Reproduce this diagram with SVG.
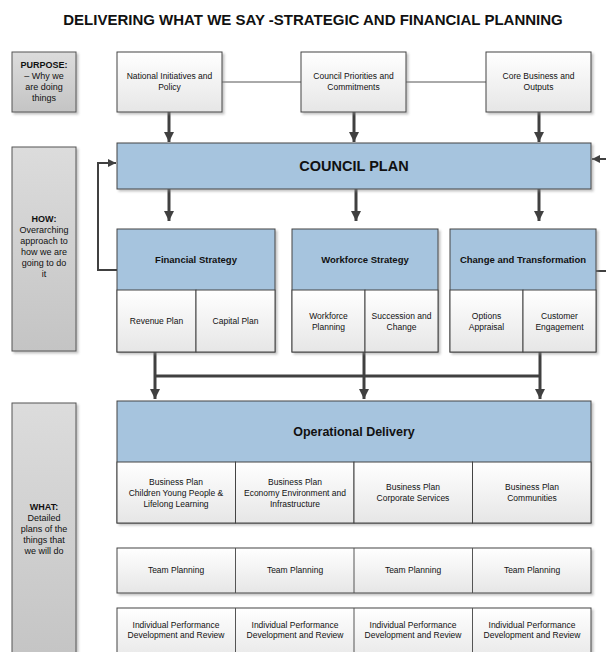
<svg xmlns="http://www.w3.org/2000/svg" width="606" height="652" viewBox="0 0 606 652">
<defs>
<linearGradient id="gGray" x1="0" y1="0" x2="0" y2="1"><stop offset="0" stop-color="#dcdcdc"/><stop offset="1" stop-color="#c4c4c4"/></linearGradient>
<linearGradient id="gWhite" x1="0" y1="0" x2="0" y2="1"><stop offset="0" stop-color="#ffffff"/><stop offset="1" stop-color="#e6e6e6"/></linearGradient>
<filter id="sh" x="-10%" y="-10%" width="130%" height="130%"><feDropShadow dx="2" dy="2" stdDeviation="1" flood-color="#888" flood-opacity="0.5"/></filter>
<marker id="ah" viewBox="0 0 10 10" refX="10" refY="5" markerWidth="10" markerHeight="11" markerUnits="userSpaceOnUse" orient="auto"><path d="M0,0 L10,5 L0,10 z" fill="#404040"/></marker>
<marker id="ahs" viewBox="0 0 10 10" refX="10" refY="5" markerWidth="8" markerHeight="8" markerUnits="userSpaceOnUse" orient="auto"><path d="M0,0 L10,5 L0,10 z" fill="#404040"/></marker>
</defs>
<style>
text{font-family:"Liberation Sans",Arial,sans-serif;fill:#111;text-anchor:middle}
.side{fill:url(#gGray);stroke:#555;stroke-width:1;filter:url(#sh)}
.wbox{fill:url(#gWhite);stroke:#444;stroke-width:1;filter:url(#sh)}
.blue{fill:#a6c4de;stroke:#444;stroke-width:1;filter:url(#sh)}
.sub{fill:url(#gWhite);stroke:#444;stroke-width:1}
.st{font-size:9px}
.sb{font-size:9px;font-weight:bold}
.s8{font-size:8.5px}
.hd{font-size:9.5px;font-weight:bold}
.thick{stroke:#404040;stroke-width:3;fill:none}
.thin{stroke:#404040;stroke-width:2;fill:none}
.hair{stroke:#555;stroke-width:1;fill:none}
</style>
<rect width="606" height="652" fill="#ffffff"/>
<text x="313" y="25" style="font-size:15px;font-weight:bold">DELIVERING WHAT WE SAY -STRATEGIC AND FINANCIAL PLANNING</text>

<g id="purpose">
<rect class="side" x="12" y="52" width="64" height="60"/>
<text class="sb" x="44" y="68">PURPOSE:</text>
<text class="st" x="44" y="79">– Why we</text>
<text class="st" x="44" y="90">are doing</text>
<text class="st" x="44" y="101">things</text>
</g>
<g id="how">
<rect class="side" x="12" y="147" width="64" height="204"/>
<text class="sb" x="44" y="222">HOW:</text>
<text class="st" x="44" y="233">Overarching</text>
<text class="st" x="44" y="244">approach to</text>
<text class="st" x="44" y="255">how we are</text>
<text class="st" x="44" y="266">going to do</text>
<text class="st" x="44" y="277">it</text>
</g>
<g id="what">
<rect class="side" x="12" y="403" width="64" height="260"/>
<text class="sb" x="44" y="510">WHAT:</text>
<text class="st" x="44" y="521">Detailed</text>
<text class="st" x="44" y="532">plans of the</text>
<text class="st" x="44" y="543">things that</text>
<text class="st" x="44" y="554">we will do</text>
</g>

<g id="connectors">
<line class="hair" x1="222" y1="82" x2="301" y2="82"/>
<line class="hair" x1="406" y1="82" x2="486" y2="82"/>
<line class="thick" x1="169" y1="112" x2="169" y2="142" marker-end="url(#ah)"/>
<line class="thick" x1="354" y1="112" x2="354" y2="142" marker-end="url(#ah)"/>
<line class="thick" x1="539" y1="112" x2="539" y2="142" marker-end="url(#ah)"/>
<line class="thick" x1="169" y1="189" x2="169" y2="221" marker-end="url(#ah)"/>
<line class="thick" x1="356" y1="189" x2="356" y2="221" marker-end="url(#ah)"/>
<line class="thick" x1="539" y1="189" x2="539" y2="221" marker-end="url(#ah)"/>
<path class="thin" d="M117,270 H98 V163 H116" marker-end="url(#ahs)"/>
<line class="thin" x1="608" y1="159" x2="592" y2="159" marker-end="url(#ahs)"/>
<line class="thin" x1="596" y1="271" x2="608" y2="271"/>
<line class="thick" x1="155" y1="352" x2="155" y2="399" marker-end="url(#ah)"/>
<line class="thick" x1="364" y1="352" x2="364" y2="399" marker-end="url(#ah)"/>
<line class="thick" x1="540" y1="352" x2="540" y2="399" marker-end="url(#ah)"/>
<line class="thick" x1="155" y1="376" x2="541" y2="376"/>
</g>

<g id="national">
<rect class="wbox" x="117" y="52" width="105" height="60"/>
<text class="s8" x="169.5" y="79">National Initiatives and</text>
<text class="s8" x="169.5" y="90">Policy</text>
</g>
<g id="council-priorities">
<rect class="wbox" x="301" y="52" width="105" height="60"/>
<text class="s8" x="353.5" y="79">Council Priorities and</text>
<text class="s8" x="353.5" y="90">Commitments</text>
</g>
<g id="core-business">
<rect class="wbox" x="486" y="52" width="105" height="60"/>
<text class="s8" x="538.5" y="79">Core Business and</text>
<text class="s8" x="538.5" y="90">Outputs</text>
</g>

<g id="council-plan">
<rect class="blue" x="117" y="143" width="474" height="46"/>
<text x="354" y="171" style="font-size:14.5px;font-weight:bold">COUNCIL PLAN</text>
</g>

<g id="financial-strategy">
<rect class="blue" x="117" y="229" width="158" height="123"/>
<text class="hd" x="196" y="263">Financial Strategy</text>
<rect class="sub" x="117" y="290" width="79" height="62"/>
<rect class="sub" x="196" y="290" width="79" height="62"/>
<text class="s8" x="156.5" y="324">Revenue Plan</text>
<text class="s8" x="235.5" y="324">Capital Plan</text>
</g>
<g id="workforce-strategy">
<rect class="blue" x="292" y="229" width="146" height="123"/>
<text class="hd" x="365" y="263">Workforce Strategy</text>
<rect class="sub" x="292" y="290" width="73" height="62"/>
<rect class="sub" x="365" y="290" width="73" height="62"/>
<text class="s8" x="328.5" y="319">Workforce</text>
<text class="s8" x="328.5" y="330">Planning</text>
<text class="s8" x="401.5" y="319">Succession and</text>
<text class="s8" x="401.5" y="330">Change</text>
</g>
<g id="change-transformation">
<rect class="blue" x="450" y="229" width="146" height="123"/>
<text class="hd" x="523" y="263">Change and Transformation</text>
<rect class="sub" x="450" y="290" width="73" height="62"/>
<rect class="sub" x="523" y="290" width="73" height="62"/>
<text class="s8" x="486.5" y="319">Options</text>
<text class="s8" x="486.5" y="330">Appraisal</text>
<text class="s8" x="559.5" y="319">Customer</text>
<text class="s8" x="559.5" y="330">Engagement</text>
</g>

<g id="operational-delivery">
<rect class="blue" x="117" y="401" width="474" height="122"/>
<text x="354" y="436" style="font-size:12.5px;font-weight:bold">Operational Delivery</text>
<rect class="sub" x="117" y="462" width="118.5" height="61"/>
<rect class="sub" x="235.5" y="462" width="118.5" height="61"/>
<rect class="sub" x="354" y="462" width="118.5" height="61"/>
<rect class="sub" x="472.5" y="462" width="118.5" height="61"/>
<text class="s8" x="176" y="485">Business Plan</text>
<text class="s8" x="176" y="496">Children Young People &amp;</text>
<text class="s8" x="176" y="507">Lifelong Learning</text>
<text class="s8" x="295" y="485">Business Plan</text>
<text class="s8" x="295" y="496">Economy Environment and</text>
<text class="s8" x="295" y="507">Infrastructure</text>
<text class="s8" x="413" y="490">Business Plan</text>
<text class="s8" x="413" y="501">Corporate Services</text>
<text class="s8" x="532" y="490">Business Plan</text>
<text class="s8" x="532" y="501">Communities</text>
</g>

<g id="team-planning">
<rect class="wbox" x="117" y="548" width="474" height="45"/>
<line class="hair" x1="235.5" y1="548" x2="235.5" y2="593"/>
<line class="hair" x1="354" y1="548" x2="354" y2="593"/>
<line class="hair" x1="472.5" y1="548" x2="472.5" y2="593"/>
<text class="s8" x="176" y="573">Team Planning</text>
<text class="s8" x="295" y="573">Team Planning</text>
<text class="s8" x="413" y="573">Team Planning</text>
<text class="s8" x="532" y="573">Team Planning</text>
</g>

<g id="individual-performance">
<rect class="wbox" x="117" y="608" width="474" height="55"/>
<line class="hair" x1="235.5" y1="608" x2="235.5" y2="652"/>
<line class="hair" x1="354" y1="608" x2="354" y2="652"/>
<line class="hair" x1="472.5" y1="608" x2="472.5" y2="652"/>
<text class="s8" x="176" y="628">Individual Performance</text>
<text class="s8" x="176" y="638">Development and Review</text>
<text class="s8" x="295" y="628">Individual Performance</text>
<text class="s8" x="295" y="638">Development and Review</text>
<text class="s8" x="413" y="628">Individual Performance</text>
<text class="s8" x="413" y="638">Development and Review</text>
<text class="s8" x="532" y="628">Individual Performance</text>
<text class="s8" x="532" y="638">Development and Review</text>
</g>
</svg>
